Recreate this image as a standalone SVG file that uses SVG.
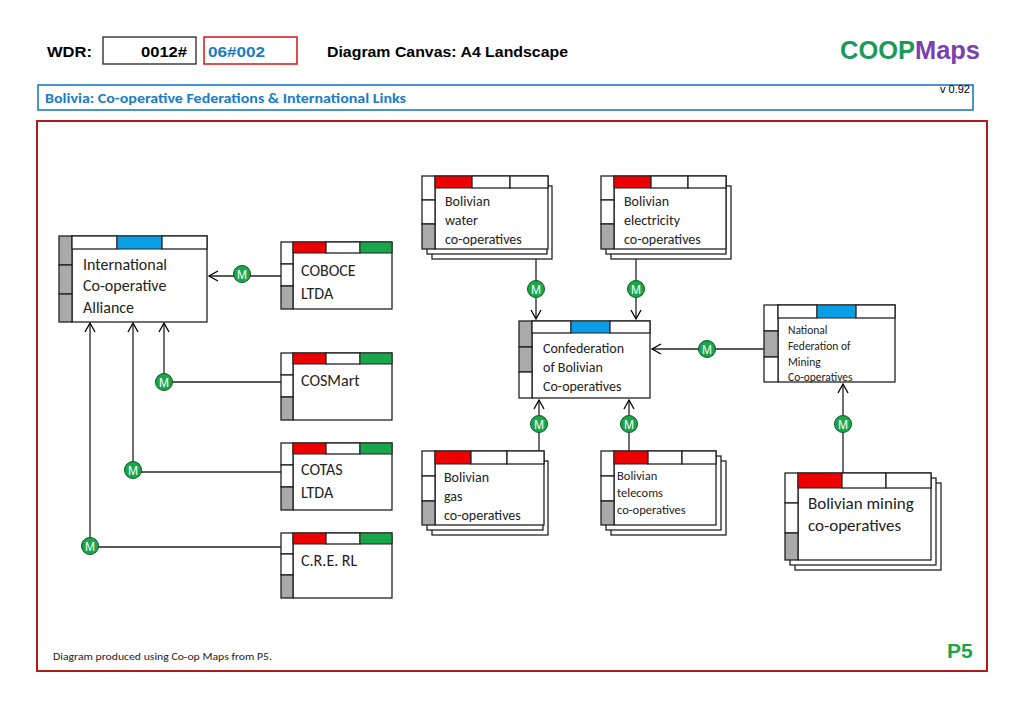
<svg xmlns="http://www.w3.org/2000/svg" width="1024" height="709" viewBox="0 0 1024 709">
<defs>
<marker id="ar" markerWidth="12" markerHeight="12" refX="10" refY="6" orient="auto" markerUnits="userSpaceOnUse"><path d="M1,1 L10,6 L1,11" fill="none" stroke="#000" stroke-width="1.3"/></marker>
<g id="mc"><circle r="8.5" fill="#1aa64a" stroke="#0a5a25" stroke-width="1"/><text y="4.5" text-anchor="middle" font-family="Liberation Sans, sans-serif" font-size="12" fill="#fff">M</text></g>
</defs>
<style>
.b{fill:#fff;stroke:#222;stroke-width:1.3}
.g{fill:#aaa;stroke:#222;stroke-width:1.3}
.r{fill:#e00;stroke:#222;stroke-width:1}
.bl{fill:#0a9ee6;stroke:#222;stroke-width:1}
.gr{fill:#1aa64a;stroke:#222;stroke-width:1}
.t{font-family:Carlito,"Liberation Sans",sans-serif;fill:#222}
.c{stroke:#222;stroke-width:1.3;fill:none}
.h{font-family:"Liberation Sans",sans-serif;font-weight:bold;font-size:15px}
</style>
<rect width="1024" height="709" fill="#fff"/>
<text x="47" y="57" class="h" textLength="45" lengthAdjust="spacingAndGlyphs">WDR:</text>
<rect x="103" y="37" width="93" height="27" fill="#fff" stroke="#222" stroke-width="1.3"/>
<text x="141" y="57" class="h" textLength="46" lengthAdjust="spacingAndGlyphs">0012#</text>
<rect x="204" y="37" width="93" height="27" fill="#fff" stroke="#d22" stroke-width="1.6"/>
<text x="208" y="57" class="h" fill="#1a7cc6" textLength="57" lengthAdjust="spacingAndGlyphs">06#002</text>
<text x="327" y="57" class="h" textLength="241" lengthAdjust="spacingAndGlyphs">Diagram Canvas: A4 Landscape</text>
<text x="840" y="59" font-family="Liberation Sans, sans-serif" font-weight="bold" font-size="26" fill="#1a9a5a" textLength="140" lengthAdjust="spacingAndGlyphs">COOP<tspan fill="#7a3fb0">Maps</tspan></text>
<rect x="38" y="85" width="935" height="25" fill="#fff" stroke="#1a7cc6" stroke-width="1.6"/>
<text x="45" y="103" class="t" font-weight="bold" font-size="13" style="fill:#1a7cc6" textLength="361" lengthAdjust="spacingAndGlyphs">Bolivia:  Co-operative Federations &amp; International Links</text>
<text x="940" y="93" font-family="Liberation Sans, sans-serif" font-size="11">v 0.92</text>
<rect x="37" y="121" width="950" height="550" fill="none" stroke="#b01a1a" stroke-width="2"/>
<text x="53" y="660" class="t" font-size="10" textLength="219" lengthAdjust="spacingAndGlyphs">Diagram produced using Co-op Maps from P5.</text>
<text x="947" y="658" font-family="Liberation Sans, sans-serif" font-weight="bold" font-size="21" fill="#1aa64a">P5</text>

<g id="connectors">
<path class="c" d="M281,276 H209" marker-end="url(#ar)"/><use href="#mc" x="242" y="274"/>
<path class="c" d="M281,382 H164 V323" marker-end="url(#ar)"/><use href="#mc" x="164" y="382"/>
<path class="c" d="M281,472 H133 V323" marker-end="url(#ar)"/><use href="#mc" x="133" y="470"/>
<path class="c" d="M281,547 H90 V323" marker-end="url(#ar)"/><use href="#mc" x="90" y="546"/>
<path class="c" d="M536,259 V319" marker-end="url(#ar)"/><use href="#mc" x="536" y="289"/>
<path class="c" d="M636,259 V319" marker-end="url(#ar)"/><use href="#mc" x="636" y="289"/>
<path class="c" d="M764,349 H652" marker-end="url(#ar)"/><use href="#mc" x="707" y="349"/>
<path class="c" d="M539,451 V400" marker-end="url(#ar)"/><use href="#mc" x="539" y="424"/>
<path class="c" d="M629,451 V400" marker-end="url(#ar)"/><use href="#mc" x="629" y="424"/>
<path class="c" d="M843,473 V384" marker-end="url(#ar)"/><use href="#mc" x="843" y="424"/>
</g>

<g id="ica">
<rect class="b" x="72" y="236" width="135" height="86"/>
<rect class="g" x="59" y="236" width="13" height="29"/><rect class="g" x="59" y="265" width="13" height="29"/><rect class="g" x="59" y="294" width="13" height="28"/>
<rect class="b" x="72" y="236" width="45" height="13"/><rect class="bl" x="117" y="236" width="45" height="13"/><rect class="b" x="162" y="236" width="45" height="13"/>
<text class="t" x="83" font-size="16"><tspan x="83" y="270">International</tspan><tspan x="83" y="291">Co-operative</tspan><tspan x="83" y="313">Alliance</tspan></text>
</g>

<g id="coboce">
<rect class="b" x="293" y="242" width="99" height="67"/>
<rect class="b" x="281" y="242" width="12" height="22"/><rect class="b" x="281" y="264" width="12" height="22"/><rect class="g" x="281" y="286" width="12" height="23"/>
<rect class="r" x="293" y="242" width="33" height="11"/><rect class="b" x="326" y="242" width="34" height="11"/><rect class="gr" x="360" y="242" width="32" height="11"/>
<text class="t" font-size="16"><tspan x="301" y="276">COBOCE</tspan><tspan x="301" y="299">LTDA</tspan></text>
</g>
<g id="cosmart">
<rect class="b" x="293" y="353" width="99" height="67"/>
<rect class="b" x="281" y="353" width="12" height="22"/><rect class="b" x="281" y="375" width="12" height="22"/><rect class="g" x="281" y="397" width="12" height="23"/>
<rect class="r" x="293" y="353" width="33" height="11"/><rect class="b" x="326" y="353" width="34" height="11"/><rect class="gr" x="360" y="353" width="32" height="11"/>
<text class="t" font-size="16" x="301" y="386">COSMart</text>
</g>
<g id="cotas">
<rect class="b" x="293" y="443" width="99" height="67"/>
<rect class="b" x="281" y="443" width="12" height="22"/><rect class="b" x="281" y="465" width="12" height="22"/><rect class="g" x="281" y="487" width="12" height="23"/>
<rect class="r" x="293" y="443" width="33" height="11"/><rect class="b" x="326" y="443" width="34" height="11"/><rect class="gr" x="360" y="443" width="32" height="11"/>
<text class="t" font-size="16"><tspan x="301" y="475">COTAS</tspan><tspan x="301" y="498">LTDA</tspan></text>
</g>
<g id="cre">
<rect class="b" x="293" y="533" width="99" height="65"/>
<rect class="b" x="281" y="533" width="12" height="21"/><rect class="b" x="281" y="554" width="12" height="21"/><rect class="g" x="281" y="575" width="12" height="23"/>
<rect class="r" x="293" y="533" width="33" height="11"/><rect class="b" x="326" y="533" width="34" height="11"/><rect class="gr" x="360" y="533" width="32" height="11"/>
<text class="t" font-size="16" x="301" y="566">C.R.E. RL</text>
</g>

<g id="water">
<rect class="b" x="432" y="186" width="120" height="73"/><rect class="b" x="427" y="181" width="120" height="73"/>
<rect class="b" x="435" y="176" width="113" height="73"/>
<rect class="b" x="422" y="176" width="13" height="24"/><rect class="b" x="422" y="200" width="13" height="24"/><rect class="g" x="422" y="224" width="13" height="25"/>
<rect class="r" x="435" y="176" width="37" height="12"/><rect class="b" x="472" y="176" width="38" height="12"/><rect class="b" x="510" y="176" width="38" height="12"/>
<text class="t" font-size="14"><tspan x="445" y="206">Bolivian</tspan><tspan x="445" y="225">water</tspan><tspan x="445" y="244">co-operatives</tspan></text>
</g>
<g id="electricity">
<rect class="b" x="611" y="186" width="120" height="73"/><rect class="b" x="606" y="181" width="120" height="73"/>
<rect class="b" x="614" y="176" width="112" height="73"/>
<rect class="b" x="601" y="176" width="13" height="24"/><rect class="b" x="601" y="200" width="13" height="24"/><rect class="g" x="601" y="224" width="13" height="25"/>
<rect class="r" x="614" y="176" width="37" height="12"/><rect class="b" x="651" y="176" width="37" height="12"/><rect class="b" x="688" y="176" width="38" height="12"/>
<text class="t" font-size="14"><tspan x="624" y="206">Bolivian</tspan><tspan x="624" y="225">electricity</tspan><tspan x="624" y="244">co-operatives</tspan></text>
</g>
<g id="confed">
<rect class="b" x="532" y="321" width="118" height="77"/>
<rect class="g" x="519" y="321" width="13" height="26"/><rect class="g" x="519" y="347" width="13" height="25"/><rect class="b" x="519" y="372" width="13" height="26"/>
<rect class="b" x="532" y="321" width="39" height="12"/><rect class="bl" x="571" y="321" width="39" height="12"/><rect class="b" x="610" y="321" width="40" height="12"/>
<text class="t" font-size="14"><tspan x="543" y="353">Confederation</tspan><tspan x="543" y="372">of Bolivian</tspan><tspan x="543" y="391">Co-operatives</tspan></text>
</g>
<g id="nfmc">
<rect class="b" x="778" y="305" width="117" height="77"/>
<rect class="b" x="764" y="305" width="14" height="26"/><rect class="g" x="764" y="331" width="14" height="26"/><rect class="b" x="764" y="357" width="14" height="25"/>
<rect class="b" x="778" y="305" width="39" height="13"/><rect class="bl" x="817" y="305" width="39" height="13"/><rect class="b" x="856" y="305" width="39" height="13"/>
<text class="t" font-size="11.5"><tspan x="788" y="334">National</tspan><tspan x="788" y="350">Federation of</tspan><tspan x="788" y="366">Mining</tspan><tspan x="788" y="381">Co-operatives</tspan></text>
</g>
<g id="gas">
<rect class="b" x="432" y="461" width="116" height="74"/><rect class="b" x="427" y="456" width="116" height="74"/>
<rect class="b" x="435" y="451" width="109" height="74"/>
<rect class="b" x="422" y="451" width="13" height="25"/><rect class="b" x="422" y="476" width="13" height="25"/><rect class="g" x="422" y="501" width="13" height="24"/>
<rect class="r" x="435" y="451" width="36" height="13"/><rect class="b" x="471" y="451" width="36" height="13"/><rect class="b" x="507" y="451" width="37" height="13"/>
<text class="t" font-size="14"><tspan x="444" y="482">Bolivian</tspan><tspan x="444" y="501">gas</tspan><tspan x="444" y="520">co-operatives</tspan></text>
</g>
<g id="telecoms">
<rect class="b" x="611" y="461" width="115" height="74"/><rect class="b" x="606" y="456" width="115" height="74"/>
<rect class="b" x="614" y="451" width="102" height="74"/>
<rect class="b" x="601" y="451" width="13" height="25"/><rect class="b" x="601" y="476" width="13" height="25"/><rect class="g" x="601" y="501" width="13" height="24"/>
<rect class="r" x="614" y="451" width="34" height="13"/><rect class="b" x="648" y="451" width="34" height="13"/><rect class="b" x="682" y="451" width="34" height="13"/>
<text class="t" font-size="12.5"><tspan x="617" y="480">Bolivian</tspan><tspan x="617" y="497">telecoms</tspan><tspan x="617" y="514">co-operatives</tspan></text>
</g>
<g id="mining">
<rect class="b" x="795" y="483" width="146" height="87"/><rect class="b" x="790" y="478" width="146" height="87"/>
<rect class="b" x="798" y="473" width="133" height="87"/>
<rect class="b" x="785" y="473" width="13" height="30"/><rect class="b" x="785" y="503" width="13" height="30"/><rect class="g" x="785" y="533" width="13" height="27"/>
<rect class="r" x="798" y="473" width="44" height="15"/><rect class="b" x="842" y="473" width="44" height="15"/><rect class="b" x="886" y="473" width="45" height="15"/>
<text class="t" font-size="17"><tspan x="808" y="509">Bolivian mining</tspan><tspan x="808" y="531">co-operatives</tspan></text>
</g>
</svg>
